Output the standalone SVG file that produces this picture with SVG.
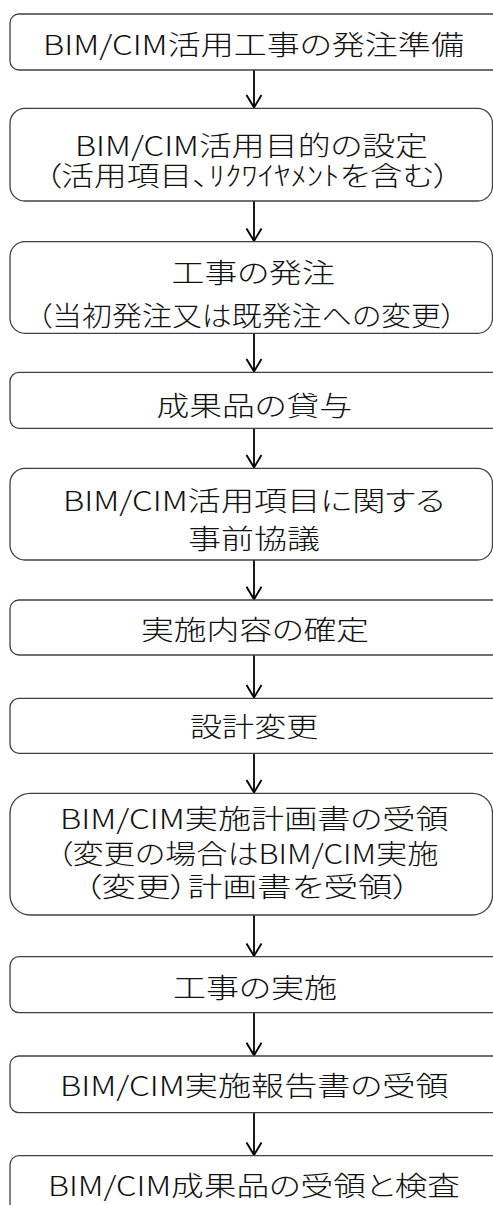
<svg xmlns="http://www.w3.org/2000/svg" width="493" height="1205" viewBox="0 0 493 1205">
<style>
.box{fill:#ffffff;stroke:#404040;stroke-width:1.3}
.t{font-family:"Noto Sans CJK JP","Noto Sans CJK SC",sans-serif;font-size:27px;font-weight:300;fill:#111111;font-feature-settings:"palt"}
.c{stroke:#000000;stroke-width:1.8;fill:none}
</style>
<defs>
<marker id="ah" markerUnits="userSpaceOnUse" markerWidth="20" markerHeight="20" viewBox="-14 -10 16 20" refX="0" refY="0" orient="auto">
<path d="M-12.5,-7.5 L0,0 L-12.5,7.5" fill="none" stroke="#000" stroke-width="1.9"/>
</marker>
</defs>
<rect width="493" height="1205" fill="#ffffff"/>
<g id="connectors">
<line class="c" x1="254" y1="70" x2="254" y2="107.5" marker-end="url(#ah)"/>
<line class="c" x1="254" y1="201" x2="254" y2="241" marker-end="url(#ah)"/>
<line class="c" x1="254" y1="333.3" x2="254" y2="371.5" marker-end="url(#ah)"/>
<line class="c" x1="254" y1="428.3" x2="254" y2="467.5" marker-end="url(#ah)"/>
<line class="c" x1="254" y1="560" x2="254" y2="599.3" marker-end="url(#ah)"/>
<line class="c" x1="254" y1="655" x2="254" y2="697.5" marker-end="url(#ah)"/>
<line class="c" x1="254" y1="753.3" x2="254" y2="792.5" marker-end="url(#ah)"/>
<line class="c" x1="254" y1="915" x2="254" y2="956" marker-end="url(#ah)"/>
<line class="c" x1="254" y1="1012.7" x2="254" y2="1055.3" marker-end="url(#ah)"/>
<line class="c" x1="254" y1="1112.7" x2="254" y2="1155" marker-end="url(#ah)"/>
</g>
<g id="n1">
<rect class="box" x="10" y="14" width="500" height="56" rx="9"/>
<text class="t" x="43" y="55" textLength="421" lengthAdjust="spacingAndGlyphs">BIM/CIM活用工事の発注準備</text>
</g>
<g id="n2">
<rect class="box" x="10" y="108.3" width="482.5" height="92.7" rx="15"/>
<text class="t" x="75" y="156" textLength="353" lengthAdjust="spacingAndGlyphs">BIM/CIM活用目的の設定</text>
<text class="t" x="45" y="186" textLength="405" lengthAdjust="spacingAndGlyphs">（活用項目、ﾘｸﾜｲﾔﾒﾝﾄを含む）</text>
</g>
<g id="n3">
<rect class="box" x="10" y="241.7" width="482.5" height="91.6" rx="15"/>
<text class="t" x="171.5" y="283" textLength="163.5" lengthAdjust="spacingAndGlyphs">工事の発注</text>
<text class="t" x="37" y="326" textLength="419" lengthAdjust="spacingAndGlyphs">（当初発注又は既発注への変更）</text>
</g>
<g id="n4">
<rect class="box" x="10" y="372.3" width="500" height="56" rx="9"/>
<text class="t" x="156.5" y="416" textLength="195.5" lengthAdjust="spacingAndGlyphs">成果品の貸与</text>
</g>
<g id="n5">
<rect class="box" x="10" y="468.3" width="482.5" height="91.7" rx="15"/>
<text class="t" x="63" y="511" textLength="382" lengthAdjust="spacingAndGlyphs">BIM/CIM活用項目に関する</text>
<text class="t" x="188" y="549" textLength="132" lengthAdjust="spacingAndGlyphs">事前協議</text>
</g>
<g id="n6">
<rect class="box" x="10" y="600" width="500" height="55" rx="9"/>
<text class="t" x="141" y="640" textLength="228" lengthAdjust="spacingAndGlyphs">実施内容の確定</text>
</g>
<g id="n7">
<rect class="box" x="10" y="698.3" width="500" height="55" rx="9"/>
<text class="t" x="190" y="737" textLength="128.5" lengthAdjust="spacingAndGlyphs">設計変更</text>
</g>
<g id="n8">
<rect class="box" x="10" y="793.3" width="482.5" height="121.7" rx="20"/>
<text class="t" x="60" y="829" textLength="388.5" lengthAdjust="spacingAndGlyphs">BIM/CIM実施計画書の受領</text>
<text class="t" x="57" y="864" textLength="381.5" lengthAdjust="spacingAndGlyphs">（変更の場合はBIM/CIM実施</text>
<text class="t" x="84" y="897" textLength="326" lengthAdjust="spacingAndGlyphs">（変更）計画書を受領）</text>
</g>
<g id="n9">
<rect class="box" x="10" y="956.7" width="500" height="56" rx="9"/>
<text class="t" x="173" y="998" textLength="164" lengthAdjust="spacingAndGlyphs">工事の実施</text>
</g>
<g id="n10">
<rect class="box" x="10" y="1056" width="500" height="56.7" rx="9"/>
<text class="t" x="60" y="1096" textLength="388.5" lengthAdjust="spacingAndGlyphs">BIM/CIM実施報告書の受領</text>
</g>
<g id="n11">
<rect class="box" x="10" y="1155.7" width="500" height="80" rx="9"/>
<text class="t" x="48" y="1196" textLength="412" lengthAdjust="spacingAndGlyphs">BIM/CIM成果品の受領と検査</text>
</g>
</svg>
